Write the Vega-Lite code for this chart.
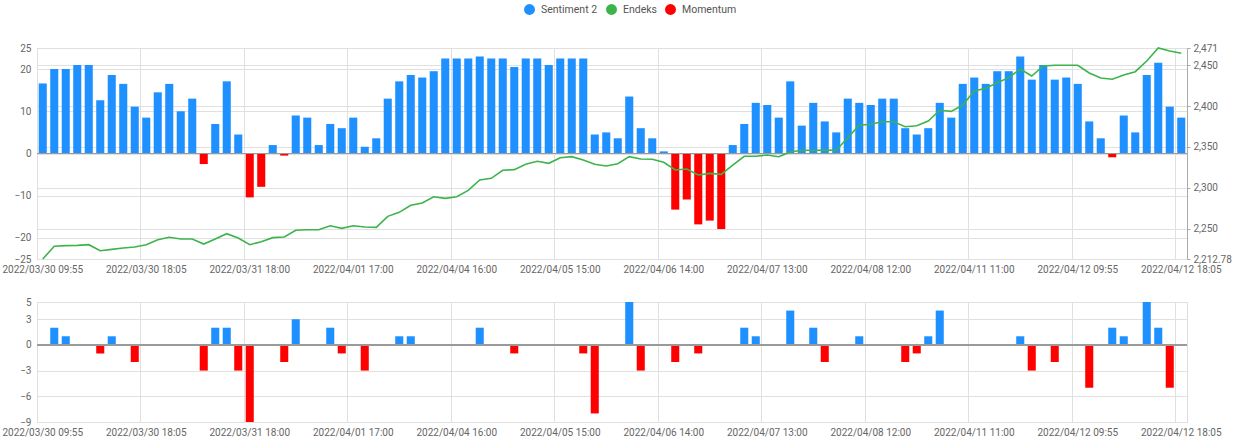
{
  "$schema": "https://vega.github.io/schema/vega-lite/v6.json",
  "padding": {"left": 1, "top": 3, "right": 0, "bottom": 0},
  "background": "white",
  "config": {
    "font": "Roboto",
    "view": {"stroke": "#dddddd"},
    "axis": {"labelFont": "Roboto", "labelColor": "#666666", "labelFontSize": 10, "gridColor": "#e0e0e0", "domainColor": "#cccccc", "ticks": false, "title": null, "labelOverlap": false},
    "legend": {"labelFont": "Roboto"}
  },
  "data": {"values": [
    {"t": "2022/03/30 09:55", "s": 16.6, "e": 2212.78, "m": 0},
    {"t": "2022/03/30 11:00", "s": 20.0, "e": 2228.3, "m": 2},
    {"t": "2022/03/30 12:00", "s": 20.0, "e": 2229.1, "m": 1},
    {"t": "2022/03/30 13:00", "s": 21.0, "e": 2229.5, "m": 0},
    {"t": "2022/03/30 14:00", "s": 21.0, "e": 2230.3, "m": 0},
    {"t": "2022/03/30 15:00", "s": 12.6, "e": 2222.9, "m": -1},
    {"t": "2022/03/30 16:00", "s": 18.6, "e": 2224.6, "m": 1},
    {"t": "2022/03/30 17:00", "s": 16.5, "e": 2226.2, "m": 0},
    {"t": "2022/03/30 18:00", "s": 11.1, "e": 2227.5, "m": -2},
    {"t": "2022/03/30 18:05", "s": 8.5, "e": 2230.3, "m": 0},
    {"t": "2022/03/31 09:55", "s": 14.5, "e": 2236.4, "m": 0},
    {"t": "2022/03/31 11:00", "s": 16.5, "e": 2239.3, "m": 0},
    {"t": "2022/03/31 12:00", "s": 10.0, "e": 2237.3, "m": 0},
    {"t": "2022/03/31 13:00", "s": 13.0, "e": 2237.3, "m": 0},
    {"t": "2022/03/31 14:00", "s": -2.5, "e": 2231.1, "m": -3},
    {"t": "2022/03/31 15:00", "s": 7.0, "e": 2237.3, "m": 2},
    {"t": "2022/03/31 16:00", "s": 17.1, "e": 2243.8, "m": 2},
    {"t": "2022/03/31 17:00", "s": 4.5, "e": 2238.5, "m": -3},
    {"t": "2022/03/31 18:00", "s": -10.4, "e": 2230.3, "m": -9},
    {"t": "2022/03/31 18:05", "s": -7.9, "e": 2234.0, "m": 0},
    {"t": "2022/04/01 09:55", "s": 2.0, "e": 2238.9, "m": 0},
    {"t": "2022/04/01 11:00", "s": -0.5, "e": 2239.7, "m": -2},
    {"t": "2022/04/01 12:00", "s": 9.0, "e": 2247.9, "m": 3},
    {"t": "2022/04/01 13:00", "s": 8.5, "e": 2248.6, "m": 0},
    {"t": "2022/04/01 14:00", "s": 2.0, "e": 2248.6, "m": 0},
    {"t": "2022/04/01 15:00", "s": 7.0, "e": 2253.5, "m": 2},
    {"t": "2022/04/01 16:00", "s": 6.0, "e": 2250.3, "m": -1},
    {"t": "2022/04/01 17:00", "s": 8.5, "e": 2253.5, "m": 0},
    {"t": "2022/04/01 18:00", "s": 1.6, "e": 2251.9, "m": -3},
    {"t": "2022/04/01 18:05", "s": 3.6, "e": 2251.5, "m": 0},
    {"t": "2022/04/04 09:55", "s": 13.0, "e": 2265.0, "m": 0},
    {"t": "2022/04/04 11:00", "s": 17.1, "e": 2269.9, "m": 1},
    {"t": "2022/04/04 12:00", "s": 18.6, "e": 2278.5, "m": 1},
    {"t": "2022/04/04 13:00", "s": 18.0, "e": 2281.3, "m": 0},
    {"t": "2022/04/04 14:00", "s": 19.5, "e": 2289.0, "m": 0},
    {"t": "2022/04/04 15:00", "s": 22.5, "e": 2287.0, "m": 0},
    {"t": "2022/04/04 16:00", "s": 22.5, "e": 2289.0, "m": 0},
    {"t": "2022/04/04 17:00", "s": 22.5, "e": 2296.8, "m": 0},
    {"t": "2022/04/04 18:00", "s": 23.0, "e": 2309.5, "m": 2},
    {"t": "2022/04/04 18:05", "s": 22.5, "e": 2311.5, "m": 0},
    {"t": "2022/04/05 09:55", "s": 22.5, "e": 2321.3, "m": 0},
    {"t": "2022/04/05 11:00", "s": 20.5, "e": 2322.1, "m": -1},
    {"t": "2022/04/05 12:00", "s": 22.5, "e": 2328.7, "m": 0},
    {"t": "2022/04/05 13:00", "s": 22.5, "e": 2332.3, "m": 0},
    {"t": "2022/04/05 14:00", "s": 21.0, "e": 2329.9, "m": 0},
    {"t": "2022/04/05 15:00", "s": 22.5, "e": 2336.7, "m": 0},
    {"t": "2022/04/05 16:00", "s": 22.5, "e": 2338.0, "m": 0},
    {"t": "2022/04/05 17:00", "s": 22.5, "e": 2333.9, "m": -1},
    {"t": "2022/04/05 18:00", "s": 4.5, "e": 2328.7, "m": -8},
    {"t": "2022/04/05 18:05", "s": 5.0, "e": 2326.6, "m": 0},
    {"t": "2022/04/06 09:55", "s": 3.6, "e": 2329.4, "m": 0},
    {"t": "2022/04/06 11:00", "s": 13.5, "e": 2338.0, "m": 5},
    {"t": "2022/04/06 12:00", "s": 6.0, "e": 2335.2, "m": -3},
    {"t": "2022/04/06 13:00", "s": 3.6, "e": 2334.8, "m": 0},
    {"t": "2022/04/06 14:00", "s": 0.5, "e": 2331.1, "m": 0},
    {"t": "2022/04/06 15:00", "s": -13.3, "e": 2321.7, "m": -2},
    {"t": "2022/04/06 16:00", "s": -10.9, "e": 2322.9, "m": 0},
    {"t": "2022/04/06 17:00", "s": -16.8, "e": 2315.6, "m": -1},
    {"t": "2022/04/06 18:00", "s": -15.9, "e": 2317.6, "m": 0},
    {"t": "2022/04/06 18:05", "s": -17.9, "e": 2316.4, "m": 0},
    {"t": "2022/04/07 09:55", "s": 2.0, "e": 2327.8, "m": 0},
    {"t": "2022/04/07 11:00", "s": 7.0, "e": 2338.5, "m": 2},
    {"t": "2022/04/07 12:00", "s": 12.0, "e": 2338.5, "m": 1},
    {"t": "2022/04/07 13:00", "s": 11.5, "e": 2340.1, "m": 0},
    {"t": "2022/04/07 14:00", "s": 8.5, "e": 2338.0, "m": 0},
    {"t": "2022/04/07 15:00", "s": 17.1, "e": 2343.7, "m": 4},
    {"t": "2022/04/07 16:00", "s": 6.6, "e": 2345.8, "m": 0},
    {"t": "2022/04/07 17:00", "s": 12.0, "e": 2345.8, "m": 2},
    {"t": "2022/04/07 18:00", "s": 7.6, "e": 2346.2, "m": -2},
    {"t": "2022/04/07 18:05", "s": 5.0, "e": 2345.8, "m": 0},
    {"t": "2022/04/08 09:55", "s": 13.0, "e": 2361.2, "m": 0},
    {"t": "2022/04/08 11:00", "s": 12.0, "e": 2376.4, "m": 1},
    {"t": "2022/04/08 12:00", "s": 11.5, "e": 2377.6, "m": 0},
    {"t": "2022/04/08 13:00", "s": 13.0, "e": 2380.8, "m": 0},
    {"t": "2022/04/08 14:00", "s": 13.0, "e": 2380.8, "m": 0},
    {"t": "2022/04/08 15:00", "s": 6.0, "e": 2374.7, "m": -2},
    {"t": "2022/04/08 16:00", "s": 4.5, "e": 2375.9, "m": -1},
    {"t": "2022/04/08 17:00", "s": 6.0, "e": 2381.7, "m": 1},
    {"t": "2022/04/08 18:00", "s": 12.0, "e": 2394.8, "m": 4},
    {"t": "2022/04/08 18:05", "s": 8.5, "e": 2393.5, "m": 0},
    {"t": "2022/04/11 09:55", "s": 16.5, "e": 2401.2, "m": 0},
    {"t": "2022/04/11 11:00", "s": 18.0, "e": 2418.4, "m": 0},
    {"t": "2022/04/11 12:00", "s": 16.5, "e": 2421.7, "m": 0},
    {"t": "2022/04/11 13:00", "s": 19.5, "e": 2428.5, "m": 0},
    {"t": "2022/04/11 14:00", "s": 19.5, "e": 2434.7, "m": 0},
    {"t": "2022/04/11 15:00", "s": 23.0, "e": 2445.3, "m": 1},
    {"t": "2022/04/11 16:00", "s": 17.5, "e": 2436.7, "m": -3},
    {"t": "2022/04/11 17:00", "s": 21.0, "e": 2449.0, "m": 0},
    {"t": "2022/04/11 18:00", "s": 17.5, "e": 2449.8, "m": -2},
    {"t": "2022/04/11 18:05", "s": 18.0, "e": 2449.8, "m": 0},
    {"t": "2022/04/12 09:55", "s": 16.5, "e": 2449.8, "m": 0},
    {"t": "2022/04/12 11:00", "s": 7.6, "e": 2440.4, "m": -5},
    {"t": "2022/04/12 12:00", "s": 3.6, "e": 2434.3, "m": 0},
    {"t": "2022/04/12 13:00", "s": -0.9, "e": 2432.7, "m": 2},
    {"t": "2022/04/12 14:00", "s": 9.0, "e": 2438.0, "m": 1},
    {"t": "2022/04/12 15:00", "s": 5.0, "e": 2442.0, "m": 0},
    {"t": "2022/04/12 16:00", "s": 18.6, "e": 2455.1, "m": 5},
    {"t": "2022/04/12 17:00", "s": 21.5, "e": 2471.0, "m": 2},
    {"t": "2022/04/12 18:00", "s": 11.1, "e": 2467.3, "m": -5},
    {"t": "2022/04/12 18:05", "s": 8.5, "e": 2464.5, "m": 0}
  ]},
  "bounds": "flush",
  "spacing": 43,
  "resolve": {"legend": {"color": "independent"}},
  "vconcat": [
    {
      "width": 1150,
      "height": 211,
      "layer": [
        {
          "layer": [
            {
              "mark": {"type": "bar", "width": {"band": 0.7}},
              "encoding": {
                "x": {"field": "t", "type": "ordinal", "sort": null, "scale": {"paddingInner": 0, "paddingOuter": 0},
                  "axis": {"values": ["2022/03/30 09:55","2022/03/30 18:05","2022/03/31 18:00","2022/04/01 17:00","2022/04/04 16:00","2022/04/05 15:00","2022/04/06 14:00","2022/04/07 13:00","2022/04/08 12:00","2022/04/11 11:00","2022/04/12 09:55","2022/04/12 18:05"],
                    "bandPosition": 0, "grid": true, "ticks": false, "domain": false, "labelAngle": 0, "labelPadding": 5, "labelOverlap": false, "labelFlush": false, "title": null}},
                "y": {"field": "s", "type": "quantitative", "scale": {"domain": [-25, 25], "nice": false},
                  "axis": {"values": [-25, -20, -10, 0, 10, 20, 25], "grid": true, "domain": false, "labelPadding": 6, "labelOverlap": false, "labelFlush": false, "title": null}},
                "color": {"condition": {"test": "datum.s >= 0", "value": "#1E90FF"}, "value": "#FF0000"}
              }
            },
            {
              "mark": {"type": "rule", "color": "#9a9a9a", "strokeWidth": 1},
              "encoding": {"y": {"datum": 0, "type": "quantitative",
                "axis": {"values": [-25, -20, -10, 0, 10, 20, 25], "grid": true, "domain": false, "labelPadding": 6, "labelOverlap": false, "labelFlush": false, "title": null}}}
            },
            {
              "mark": {"type": "circle", "opacity": 0},
              "encoding": {
                "color": {"datum": "Endeks", "type": "nominal",
                  "scale": {"domain": ["Sentiment 2", "Endeks", "Momentum"], "range": ["#1E90FF", "#3CB44B", "#FF0000"]},
                  "legend": {"orient": "none", "legendX": 487, "legendY": -44, "direction": "horizontal", "title": null,
                    "symbolType": "circle", "symbolSize": 120, "symbolOpacity": 1, "symbolStrokeWidth": 0,
                    "labelFontSize": 10.5, "labelColor": "#555555", "labelOffset": 6, "columnPadding": 8}}
              }
            }
          ]
        },
        {
          "mark": {"type": "line", "color": "#3CB44B", "strokeWidth": 1.6},
          "encoding": {
            "x": {"field": "t", "type": "ordinal", "sort": null},
            "y": {"field": "e", "type": "quantitative", "scale": {"domain": [2212.78, 2471], "nice": false, "zero": false},
              "axis": {"orient": "right", "values": [2212.78, 2250, 2300, 2350, 2400, 2450, 2471], "format": ",.2~f",
                "grid": true, "domain": true, "domainColor": "#aaaaaa", "ticks": true, "tickSize": 3, "tickColor": "#aaaaaa", "labelPadding": 3, "labelOverlap": false, "labelFlush": false, "title": null}}
          }
        }
      ],
      "resolve": {"scale": {"y": "independent"}}
    },
    {
      "width": 1150,
      "height": 120,
      "layer": [
        {
          "mark": {"type": "bar", "width": {"band": 0.7}},
          "encoding": {
            "x": {"field": "t", "type": "ordinal", "sort": null, "scale": {"paddingInner": 0, "paddingOuter": 0},
              "axis": {"values": ["2022/03/30 09:55","2022/03/30 18:05","2022/03/31 18:00","2022/04/01 17:00","2022/04/04 16:00","2022/04/05 15:00","2022/04/06 14:00","2022/04/07 13:00","2022/04/08 12:00","2022/04/11 11:00","2022/04/12 09:55","2022/04/12 18:05"],
                "bandPosition": 0, "grid": true, "ticks": false, "domain": false, "labelAngle": 0, "labelPadding": 5, "labelOverlap": false, "labelFlush": false, "title": null}},
            "y": {"field": "m", "type": "quantitative", "scale": {"domain": [-9, 5], "nice": false},
              "axis": {"values": [-9, -6, -3, 0, 3, 5], "grid": true, "domain": false, "labelPadding": 6, "labelOverlap": false, "labelFlush": false, "title": null}},
            "color": {"condition": {"test": "datum.m >= 0", "value": "#1E90FF"}, "value": "#FF0000"}
          }
        },
        {
          "mark": {"type": "rule", "color": "#9a9a9a", "strokeWidth": 1},
          "encoding": {"y": {"datum": 0, "type": "quantitative",
            "axis": {"values": [-9, -6, -3, 0, 3, 5], "grid": true, "domain": false, "labelPadding": 6, "labelOverlap": false, "labelFlush": false, "title": null}}}
        }
      ]
    }
  ]
}
